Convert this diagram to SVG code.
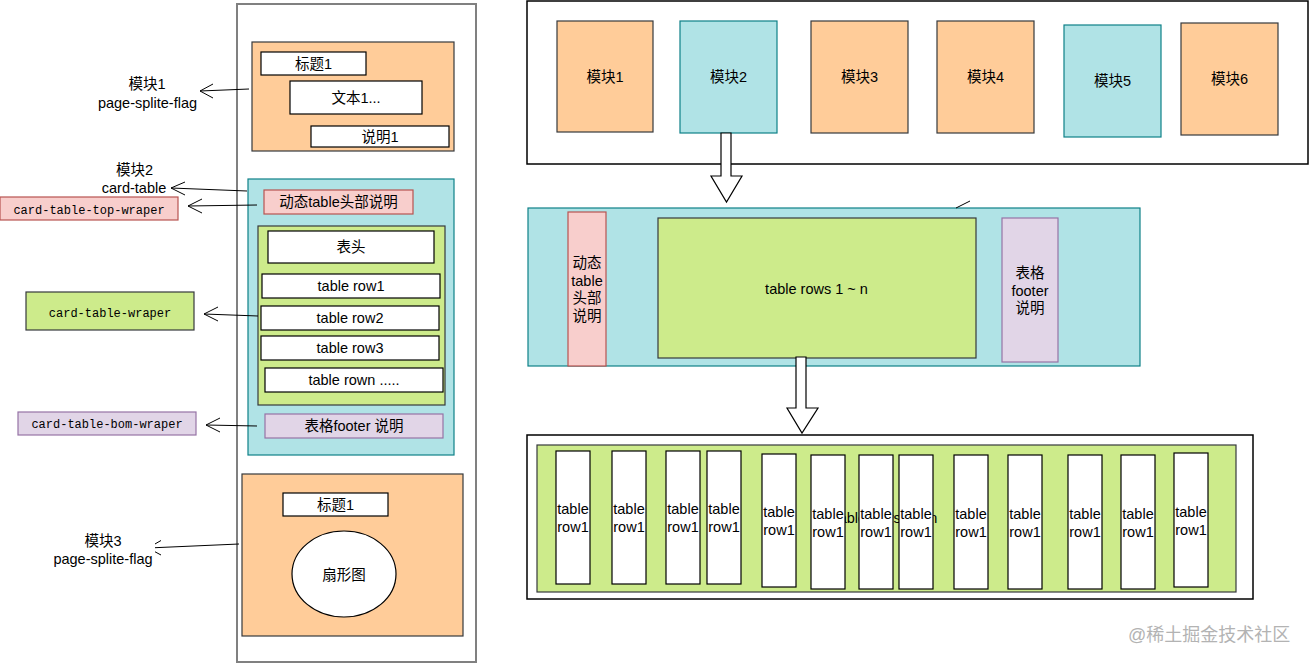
<svg xmlns="http://www.w3.org/2000/svg" width="1309" height="663" viewBox="0 0 1309 663">
<style>
text{font-family:"Liberation Sans","Noto Sans CJK SC",sans-serif;font-size:14.5px;fill:#000;text-anchor:middle}
.mono{font-family:"Liberation Mono","DejaVu Sans Mono",monospace;font-size:12px}
.orange{fill:#ffcc99;stroke:#36393d;stroke-width:1.2}
.cyan{fill:#b0e3e6;stroke:#0e8088;stroke-width:1.2}
.green{fill:#cdeb8b;stroke:#36393d;stroke-width:1.2}
.pink{fill:#f8cecc;stroke:#b85450;stroke-width:1.2}
.purple{fill:#e1d5e7;stroke:#9673a6;stroke-width:1.2}
.white{fill:#fff;stroke:#000;stroke-width:1.2}
.frame{fill:#fff;stroke:#000;stroke-width:1.5}
.conn{fill:none;stroke:#000;stroke-width:1}
.hollow{fill:#fff;stroke:#000;stroke-width:1.2}
.wm{fill:#b3b3b3;font-size:18px;text-anchor:start}
</style>
<rect width="1309" height="663" fill="#fff"/>

<!-- left page column -->
<g id="page">
<rect x="237" y="4" width="239" height="658" fill="#fff" stroke="#808080" stroke-width="2"/>
</g>
<g id="module1">
<rect class="orange" x="252" y="42" width="202" height="109"/>
<rect class="white" x="261" y="52" width="105" height="23"/><text x="313.5" y="69">标题1</text>
<rect class="white" x="290" y="81" width="132" height="33"/><text x="356" y="103">文本1...</text>
<rect class="white" x="311" y="126" width="138" height="21"/><text x="380" y="142">说明1</text>
</g>
<g id="module2">
<rect class="cyan" x="248" y="179" width="206" height="276"/>
<rect class="pink" x="264" y="190" width="149" height="24"/><text x="338.5" y="207">动态table头部说明</text>
<rect class="green" x="258" y="226" width="187" height="179"/>
<rect class="white" x="268" y="231" width="166" height="32"/><text x="351" y="252">表头</text>
<rect class="white" x="262" y="274" width="178" height="24"/><text x="351" y="291">table row1</text>
<rect class="white" x="261" y="306" width="178" height="24"/><text x="350" y="323">table row2</text>
<rect class="white" x="261" y="336" width="178" height="24"/><text x="350" y="353">table row3</text>
<rect class="white" x="265" y="368" width="178" height="24"/><text x="354" y="385">table rown .....</text>
<rect class="purple" x="265" y="414" width="178" height="24"/><text x="354" y="431">表格footer 说明</text>
</g>
<g id="module3">
<rect class="orange" x="242" y="474" width="221" height="162"/>
<rect class="white" x="283" y="493" width="105" height="23"/><text x="335.5" y="510">标题1</text>
<ellipse class="white" cx="344" cy="574" rx="52" ry="43"/><text x="344" y="580">扇形图</text>
</g>

<!-- right side -->
<g id="top-container">
<rect class="frame" x="527" y="1" width="781" height="163"/>
</g>
<g id="m1"><rect class="orange" x="557" y="21" width="96" height="111"/><text x="605" y="82">模块1</text></g>
<g id="m2"><rect class="cyan" x="680" y="21" width="97" height="112"/><text x="728.5" y="82">模块2</text></g>
<g id="m3"><rect class="orange" x="811" y="21" width="97" height="112"/><text x="859.5" y="82">模块3</text></g>
<g id="m4"><rect class="orange" x="937" y="21" width="97" height="112"/><text x="985.5" y="82">模块4</text></g>
<g id="m5"><rect class="cyan" x="1064" y="25" width="97" height="112"/><text x="1112.5" y="86">模块5</text></g>
<g id="m6"><rect class="orange" x="1181" y="23" width="97" height="112"/><text x="1229.5" y="84">模块6</text></g>

<g id="mid-container">
<rect class="cyan" x="528" y="208" width="612" height="158"/>
<rect class="pink" x="568" y="212" width="38" height="154"/>
<text x="587" y="268">动态</text><text x="587" y="286">table</text><text x="587" y="303">头部</text><text x="587" y="321">说明</text>
<rect class="green" x="658" y="218" width="318" height="140"/>
<text x="816.5" y="294">table rows 1 ~ n</text>
<rect class="purple" x="1002" y="218" width="56" height="144"/>
<text x="1030" y="278">表格</text><text x="1030" y="296">footer</text><text x="1030" y="313">说明</text>
</g>

<g id="bottom-container">
<rect class="frame" x="527" y="435" width="726" height="164"/>
<rect class="green" x="537" y="445" width="699" height="147"/>
<text x="886" y="523">table rows 1 ~ n</text>
<g id="rows">
<rect class="white" x="556" y="451" width="34" height="133"/><text x="573" y="514">table</text><text x="573" y="532">row1</text>
<rect class="white" x="612" y="451" width="34" height="133"/><text x="629" y="514">table</text><text x="629" y="532">row1</text>
<rect class="white" x="666" y="451" width="34" height="133"/><text x="683" y="514">table</text><text x="683" y="532">row1</text>
<rect class="white" x="707" y="451" width="34" height="133"/><text x="724" y="514">table</text><text x="724" y="532">row1</text>
<rect class="white" x="762" y="454" width="34" height="133"/><text x="779" y="517">table</text><text x="779" y="535">row1</text>
<rect class="white" x="811" y="455" width="34" height="134"/><text x="828" y="519">table</text><text x="828" y="537">row1</text>
<rect class="white" x="859" y="455" width="34" height="134"/><text x="876" y="519">table</text><text x="876" y="537">row1</text>
<rect class="white" x="899" y="455" width="34" height="134"/><text x="916" y="519">table</text><text x="916" y="537">row1</text>
<rect class="white" x="954" y="455" width="34" height="134"/><text x="971" y="519">table</text><text x="971" y="537">row1</text>
<rect class="white" x="1008" y="455" width="34" height="134"/><text x="1025" y="519">table</text><text x="1025" y="537">row1</text>
<rect class="white" x="1068" y="455" width="34" height="134"/><text x="1085" y="519">table</text><text x="1085" y="537">row1</text>
<rect class="white" x="1121" y="455" width="34" height="134"/><text x="1138" y="519">table</text><text x="1138" y="537">row1</text>
<rect class="white" x="1174" y="453" width="34" height="134"/><text x="1191" y="517">table</text><text x="1191" y="535">row1</text>
</g>
</g>

<!-- connectors -->
<g id="connectors">
<path class="conn" d="M249 89 L200 91 M213 84 L200 91 L213 98"/>
<path class="conn" d="M247 191 L171 188 M185 182 L171 188 L185 195"/>
<path class="conn" d="M257 205 L188 206 M202 199 L188 206 L202 213"/>
<path class="conn" d="M258 316 L204 314 M218 307 L204 314 L218 321"/>
<path class="conn" d="M257 426 L206 425 M220 418 L206 425 L220 432"/>
<path class="conn" d="M239 544 L148 548 M161 540.5 L148 548 L161 555"/>
<path class="conn" d="M956 208 L970 201"/>
<polygon class="hollow" points="721,133 731,133 731,176 742,176 726.5,202 711,176 721,176"/>
<polygon class="hollow" points="796,357 806,357 806,408 818,408 802,433 787,408 796,408"/>
</g>

<!-- side labels -->
<g id="label-module1"><text x="147" y="89">模块1</text><text x="147.5" y="107.5">page-splite-flag</text></g>
<g id="label-module2"><text x="134.5" y="175">模块2</text><text x="134" y="193">card-table</text></g>
<g id="label-module3">
<rect x="48" y="531" width="107" height="36" fill="#fff"/>
<text x="103" y="545.5">模块3</text><text x="103" y="564">page-splite-flag</text>
</g>
<g id="label-top"><rect class="pink" x="0" y="197" width="178" height="23"/><text class="mono" x="89" y="214">card-table-top-wraper</text></g>
<g id="label-wraper"><rect class="green" x="26" y="292" width="168" height="38"/><text class="mono" x="110" y="317">card-table-wraper</text></g>
<g id="label-bom"><rect class="purple" x="18" y="412" width="178" height="23"/><text class="mono" x="107" y="428">card-table-bom-wraper</text></g>

<text class="wm" x="1128" y="641">@稀土掘金技术社区</text>
</svg>
